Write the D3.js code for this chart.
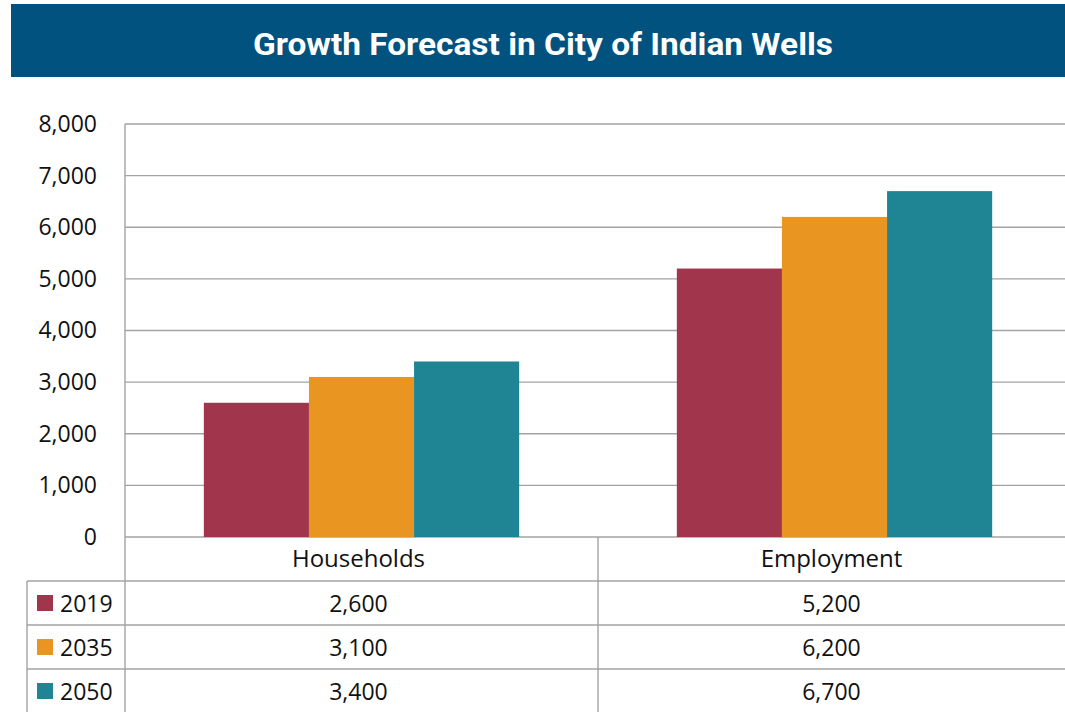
<!DOCTYPE html>
<html lang="en">
<head>
<meta charset="utf-8">
<title>Growth Forecast in City of Indian Wells</title>
<script src="https://d3js.org/d3.v7.min.js"></script>
<style>
  body { margin: 0; background: #fff; }
  svg { display: block; font-family: "Open Sans", "Noto Sans", sans-serif; }
</style>
</head>
<body>
<script>
// data
const categories = ["Households", "Employment"];
const years = ["2019", "2035", "2050"];
const values2019 = [2600, 5200];
const values2035 = [3100, 6200];
const values2050 = [3400, 6700];
const yTicks = [0, 1000, 2000, 3000, 4000, 5000, 6000, 7000, 8000];
const colors = ["#a0354c", "#e89521", "#1f8595"];

const series = [values2019, values2035, values2050];
const width = 1065, height = 712;
const plotLeft = 125, plotTop = 124, plotBottom = 537;
const rowH = 44;
const fmt = d3.format(",");

const svg = d3.select("body").append("svg")
  .attr("width", width).attr("height", height);

// title band
svg.append("rect")
  .attr("x", 11).attr("y", 4)
  .attr("width", width - 11).attr("height", 73)
  .attr("fill", "#01527e");
svg.append("text")
  .attr("x", 543).attr("y", 55)
  .attr("text-anchor", "middle")
  .attr("fill", "#fff")
  .style("font-family", "Roboto, sans-serif")
  .style("font-weight", "bold")
  .style("font-size", "31px")
  .attr("textLength", 580)
  .attr("lengthAdjust", "spacingAndGlyphs")
  .text("Growth Forecast in City of Indian Wells");

const x = d3.scaleBand().domain(categories).range([plotLeft, 1071]);
const xInner = d3.scaleBand().domain(years).range([0, x.bandwidth()]).paddingOuter(0.75);
const y = d3.scaleLinear().domain([0, 8000]).range([plotBottom, plotTop]);

// gridlines
svg.append("g")
  .selectAll("line")
  .data(yTicks)
  .join("line")
  .attr("x1", plotLeft).attr("x2", width)
  .attr("y1", d => y(d)).attr("y2", d => y(d))
  .attr("stroke", "#a3a3a3").attr("stroke-width", 1.4);

// left axis
const leftAxis = d3.axisLeft(y).tickValues(yTicks).tickFormat(fmt).tickSize(0).tickPadding(28);
const ga = svg.append("g")
  .attr("transform", "translate(" + plotLeft + ",0)")
  .call(leftAxis);
ga.select(".domain").remove();
ga.selectAll("text")
  .style("font-family", "'Open Sans', sans-serif")
  .style("font-size", "23px")
  .attr("fill", "#111");
svg.append("line")
  .attr("x1", plotLeft).attr("x2", plotLeft)
  .attr("y1", plotTop).attr("y2", height)
  .attr("stroke", "#a3a3a3").attr("stroke-width", 1.4);

// bars
years.forEach((yr, i) => {
  svg.append("g")
    .selectAll("rect")
    .data(categories.map((c, j) => ({ c: c, v: series[i][j] })))
    .join("rect")
    .attr("x", d => x(d.c) + xInner(yr))
    .attr("y", d => y(d.v))
    .attr("width", xInner.bandwidth())
    .attr("height", d => plotBottom - y(d.v))
    .attr("fill", colors[i]);
});

// data table
const tableLeft = 27;
const rowLines = [1, 2, 3, 4].map(i => plotBottom + rowH * i);
svg.append("g")
  .selectAll("line")
  .data(rowLines)
  .join("line")
  .attr("x1", tableLeft)
  .attr("x2", width)
  .attr("y1", d => d).attr("y2", d => d)
  .attr("stroke", "#a3a3a3").attr("stroke-width", 1.4);
svg.append("line")
  .attr("x1", tableLeft).attr("x2", tableLeft)
  .attr("y1", plotBottom + rowH).attr("y2", height)
  .attr("stroke", "#a3a3a3").attr("stroke-width", 1.4);
svg.append("line")
  .attr("x1", x(categories[1])).attr("x2", x(categories[1]))
  .attr("y1", plotBottom).attr("y2", height)
  .attr("stroke", "#a3a3a3").attr("stroke-width", 1.4);

// category header
svg.append("g")
  .selectAll("text")
  .data(categories)
  .join("text")
  .attr("x", d => x(d) + x.bandwidth() / 2 - 3)
  .attr("y", plotBottom + 30)
  .attr("text-anchor", "middle")
  .style("font-size", "24px")
  .attr("fill", "#111")
  .text(d => d);

// legend rows and values
years.forEach((yr, i) => {
  const ry = plotBottom + rowH * (i + 1);
  svg.append("rect")
    .attr("x", 37).attr("y", ry + 14)
    .attr("width", 16).attr("height", 16)
    .attr("fill", colors[i]);
  svg.append("text")
    .attr("x", 60).attr("y", ry + 31)
    .style("font-size", "23px")
    .attr("fill", "#111")
    .text(yr);
  svg.append("g")
    .selectAll("text")
    .data(categories.map((c, j) => ({ c: c, v: series[i][j] })))
    .join("text")
    .attr("x", d => x(d.c) + x.bandwidth() / 2 - 3)
    .attr("y", ry + 31)
    .attr("text-anchor", "middle")
    .style("font-size", "23px")
    .attr("fill", "#111")
    .text(d => fmt(d.v));
});
</script>
</body>
</html>
